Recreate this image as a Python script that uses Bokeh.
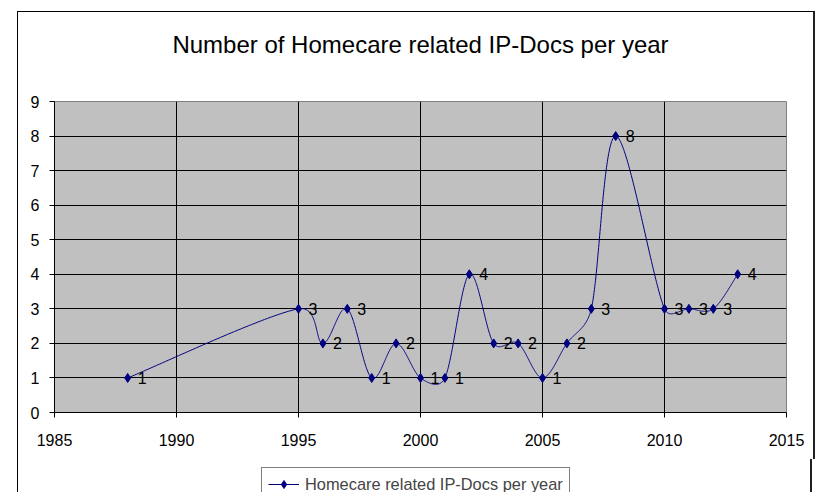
import numpy as np
from bokeh.plotting import figure
from bokeh.layouts import column
from bokeh.models import (ColumnDataSource, LabelSet, Legend, LegendItem, FixedTicker,
                          Range1d, Title)
from bokeh.core.properties import value
from bokeh.embed import file_html
from bokeh.resources import INLINE

# ---- data ----
years = [1988, 1995, 1996, 1997, 1998, 1999, 2000, 2001, 2002, 2003, 2004,
         2005, 2006, 2007, 2008, 2010, 2011, 2012, 2013]
docs = [1, 3, 2, 3, 1, 2, 1, 1, 4, 2, 2, 1, 2, 3, 8, 3, 3, 3, 4]
x_ticks = [1985, 1990, 1995, 2000, 2005, 2010, 2015]
y_ticks = [0, 1, 2, 3, 4, 5, 6, 7, 8, 9]
title_text = "Number of Homecare related IP-Docs per year"
series_name = "Homecare related IP-Docs per year"

FONT = "Liberation Sans"
NAVY = "#000080"

# ---- layout (pixels, relative to the canvas) ----
W = 795
FL, FT, FW, FH, FB = 36, 89, 729, 310, 48
LEG_H = 33
x0, x1 = x_ticks[0], x_ticks[-1]
y0, y1 = y_ticks[0], y_ticks[-1]
sx = FW / (x1 - x0)
sy = FH / (y1 - y0)


def smooth(xs, ys, n=60):
    """Excel-like smoothed line: cubic Bezier segments through the points."""
    P = np.column_stack([np.asarray(xs, float) * sx, np.asarray(ys, float) * sy])
    m = len(P)
    pts = []
    for i in range(m - 1):
        p0 = P[i - 1] if i > 0 else P[i]
        p1, p2 = P[i], P[i + 1]
        p3 = P[i + 2] if i + 2 < m else P[i + 1]
        d12 = np.hypot(*(p2 - p1))
        d02 = np.hypot(*(p2 - p0))
        d13 = np.hypot(*(p3 - p1))
        f1 = 1 / 6 if d02 / 6 < d12 / 2 else (d12 / (2 * d02) if d02 > 0 else 0)
        f2 = 1 / 6 if d13 / 6 < d12 / 2 else (d12 / (2 * d13) if d13 > 0 else 0)
        c1 = p1 + (p2 - p0) * f1
        c2 = p2 - (p3 - p1) * f2
        t = np.linspace(0, 1, n)[:, None]
        if i > 0:
            t = t[1:]
        B = ((1 - t) ** 3) * p1 + 3 * ((1 - t) ** 2) * t * c1 + 3 * (1 - t) * t ** 2 * c2 + t ** 3 * p2
        pts.append(B)
    B = np.vstack(pts)
    return B[:, 0] / sx, B[:, 1] / sy


cx, cy = smooth(years, docs)

# ---------------- main chart ----------------
p = figure(frame_width=FW, frame_height=FH, title=None,
           x_range=Range1d(x0, x1), y_range=Range1d(y0, y1),
           min_border_left=FL, min_border_right=W - FL - FW,
           min_border_top=FT, min_border_bottom=FB,
           output_backend="svg", toolbar_location=None,
           margin=(11, 0, 0, 17),
           styles={"border-left": "1px solid #000000",
                   "border-top": "1px solid #000000",
                   "border-right": "2px solid #202020"})

# spacer between plot area and title, then the title itself
p.add_layout(Title(text=" ", text_font=FONT, text_font_size="16px", standoff=20), "above")
p.add_layout(Title(text=title_text, align="center", vertical_align="bottom", standoff=10,
                   text_font=FONT, text_font_size="24px", text_font_style="normal",
                   text_color="black"), "above")

p.background_fill_color = "#C0C0C0"
p.border_fill_color = "white"
p.outline_line_color = "#808080"
p.outline_line_width = 1

for ax, ticks in ((p.xaxis, x_ticks), (p.yaxis, y_ticks)):
    ax.ticker = FixedTicker(ticks=ticks)
    ax.major_label_text_font = FONT
    ax.major_label_text_font_size = "16px"
    ax.major_label_text_color = "black"
    ax.axis_line_color = "black"
    ax.major_tick_line_color = "black"
    ax.major_tick_out = 5
    ax.major_tick_in = 0
    ax.minor_tick_line_color = None
p.xaxis.major_label_standoff = 16
p.yaxis.major_label_standoff = 10

p.xgrid.ticker = FixedTicker(ticks=x_ticks)
p.ygrid.ticker = FixedTicker(ticks=y_ticks)
for g in (p.xgrid, p.ygrid):
    g.grid_line_color = "black"
    g.grid_line_width = 1

src = ColumnDataSource(dict(x=years, y=docs, lbl=[str(v) for v in docs]))
p.line(cx, cy, line_color=NAVY, line_width=1)
p.scatter("x", "y", source=src, marker="diamond", size=9,
          fill_color=NAVY, line_color=NAVY)

labels = LabelSet(x="x", y="y", text="lbl", source=src, x_offset=10, y_offset=0,
                  text_baseline="middle", text_align="left",
                  text_font=value(FONT), text_font_size="16px", text_color="black")
p.add_layout(labels)

# ---------------- legend strip (below the chart, inside the chart border) ----------------
pl = figure(width=W, height=LEG_H, x_range=Range1d(0, 1), y_range=Range1d(0, 1),
            min_border=0, x_axis_location=None, y_axis_location=None,
            output_backend="svg", toolbar_location=None,
            margin=(0, 0, 0, 17),
            styles={"border-left": "1px solid #000000",
                    "border-right": "2px solid #202020"})
pl.xgrid.visible = False
pl.ygrid.visible = False
pl.outline_line_color = None
pl.background_fill_color = "white"
pl.border_fill_color = "white"
# same series, drawn outside this strip's view: only its legend entry shows
leg_line = pl.line(cx, cy, line_color=NAVY, line_width=1)
leg_pts = pl.scatter("x", "y", source=src, marker="diamond", size=9,
                     fill_color=NAVY, line_color=NAVY)

legend = Legend(items=[LegendItem(label=series_name, renderers=[leg_line, leg_pts])],
                location=(207, -9), orientation="horizontal",
                border_line_color="black", border_line_width=1,
                background_fill_color="white", background_fill_alpha=1,
                label_text_font=FONT, label_text_font_size="16.4px",
                padding=6, glyph_width=31, label_standoff=6, margin=0, spacing=0)
pl.add_layout(legend, "center")

layout = column(p, pl, spacing=0)

open("out.html", "w").write(file_html(layout, INLINE))
